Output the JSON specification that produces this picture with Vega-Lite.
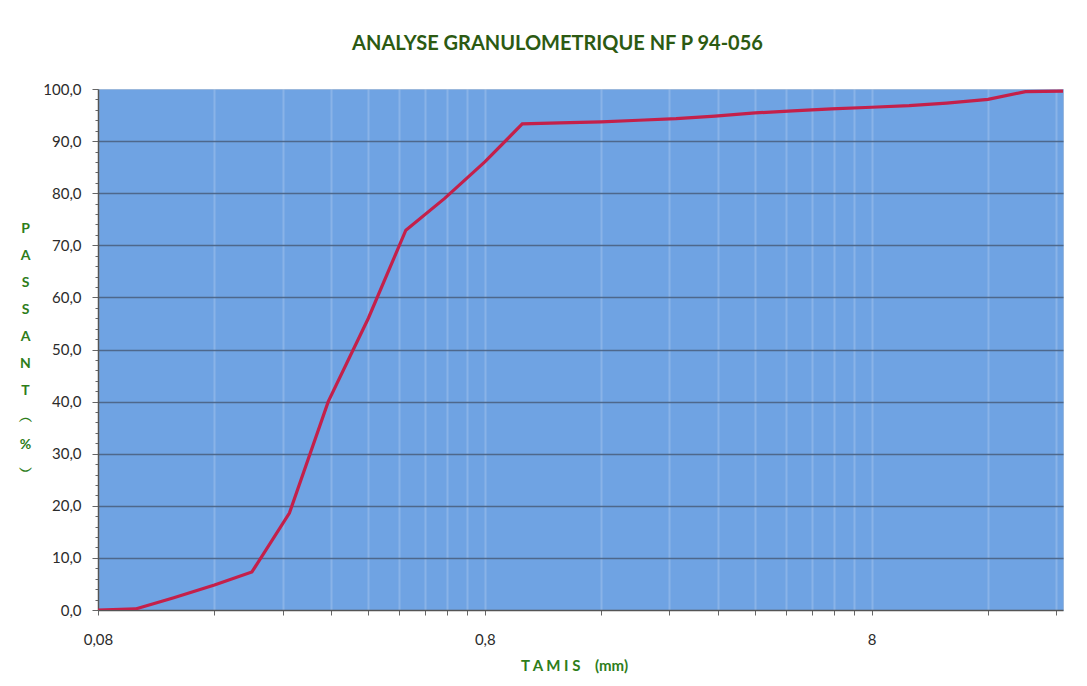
{
  "$schema": "https://vega.github.io/schema/vega-lite/v6.json",
  "width": 965,
  "height": 521,
  "autosize": "none",
  "padding": {"left": 98, "top": 89, "right": 24, "bottom": 76},
  "background": "#ffffff",
  "title": {
    "text": "ANALYSE GRANULOMETRIQUE NF P 94-056",
    "font": "Lato",
    "fontSize": 20,
    "fontWeight": "bold",
    "color": "#2c5a12",
    "anchor": "middle",
    "frame": "group",
    "offset": 28,
    "dx": -23
  },
  "config": {
    "view": {"fill": "#6fa3e3", "stroke": "#9bb8dc", "strokeWidth": 1},
    "font": "Lato"
  },
  "data": {
    "values": [
      {"mm": 0.08, "passant": 0.0},
      {"mm": 0.1, "passant": 0.2},
      {"mm": 0.125, "passant": 2.3},
      {"mm": 0.16, "passant": 4.8},
      {"mm": 0.2, "passant": 7.3},
      {"mm": 0.25, "passant": 18.6},
      {"mm": 0.315, "passant": 40.0},
      {"mm": 0.4, "passant": 56.0},
      {"mm": 0.5, "passant": 72.9},
      {"mm": 0.63, "passant": 79.0},
      {"mm": 0.8, "passant": 86.0},
      {"mm": 1.0, "passant": 93.3},
      {"mm": 1.25, "passant": 93.5},
      {"mm": 1.6, "passant": 93.7},
      {"mm": 2.0, "passant": 94.0},
      {"mm": 2.5, "passant": 94.3},
      {"mm": 3.15, "passant": 94.8},
      {"mm": 4.0, "passant": 95.4},
      {"mm": 5.0, "passant": 95.8},
      {"mm": 6.3, "passant": 96.2},
      {"mm": 8.0, "passant": 96.5},
      {"mm": 10.0, "passant": 96.8},
      {"mm": 12.5, "passant": 97.3},
      {"mm": 16.0, "passant": 98.0},
      {"mm": 20.0, "passant": 99.5},
      {"mm": 25.0, "passant": 99.6}
    ]
  },
  "mark": {"type": "line", "color": "#c4204a", "strokeWidth": 3.2, "clip": true},
  "encoding": {
    "x": {
      "field": "mm",
      "type": "quantitative",
      "scale": {"type": "log", "domain": [0.08, 25], "nice": false},
      "axis": {
        "values": [0.08, 0.16, 0.24, 0.32, 0.4, 0.48, 0.56, 0.64, 0.72, 0.8, 1.6, 2.4, 3.2, 4, 4.8, 5.6, 6.4, 7.2, 8, 16, 24],
        "labelExpr": "(datum.value === 0.08 || datum.value === 0.8 || datum.value === 8) ? replace(format(datum.value, '~g'), '.', ',') : ''",
        "labelFont": "Lato",
        "labelFontSize": 15,
        "labelColor": "#2b2b2b",
        "labelPadding": 17,
        "labelFlush": false,
        "labelOverlap": false,
        "tickSize": 5,
        "tickColor": "#666666",
        "domainColor": "#555555",
        "domainWidth": 1.5,
        "grid": true,
        "gridColor": "#ffffff",
        "gridOpacity": 0.18,
        "gridWidth": 2,
        "title": "T A M I S\u00a0\u00a0\u00a0\u00a0(mm)",
        "titleFont": "Lato",
        "titleFontSize": 15,
        "titleFontWeight": "bold",
        "titleColor": "#2e7d1a",
        "titlePadding": 11,
        "titleX": 476
      }
    },
    "y": {
      "field": "passant",
      "type": "quantitative",
      "scale": {"domain": [0, 100], "nice": false},
      "axis": {
        "values": [0, 2, 4, 6, 8, 10, 12, 14, 16, 18, 20, 22, 24, 26, 28, 30, 32, 34, 36, 38, 40, 42, 44, 46, 48, 50, 52, 54, 56, 58, 60, 62, 64, 66, 68, 70, 72, 74, 76, 78, 80, 82, 84, 86, 88, 90, 92, 94, 96, 98, 100],
        "labelExpr": "datum.value % 10 === 0 ? replace(format(datum.value, '.1f'), '.', ',') : ''",
        "labelFont": "Lato",
        "labelFontSize": 15,
        "labelColor": "#2b2b2b",
        "labelPadding": 11,
        "labelOverlap": false,
        "tickSize": {"condition": {"test": "datum.value % 10 === 0", "value": 6}, "value": 3},
        "tickColor": "#666666",
        "domainColor": "#555555",
        "domainWidth": 1.5,
        "grid": true,
        "gridColor": "#4a6282",
        "gridOpacity": {"condition": {"test": "datum.value % 10 === 0 && datum.value > 0 && datum.value < 100", "value": 0.9}, "value": 0},
        "gridWidth": 1.4,
        "title": ["P", "A", "S", "S", "A", "N", "T", "︵", "%", "︶"],
        "titleAngle": 0,
        "titleFont": "Lato",
        "titleFontSize": 14,
        "titleFontWeight": "bold",
        "titleColor": "#2e7d1a",
        "titleLineHeight": 27,
        "titleAlign": "center",
        "titleBaseline": "top",
        "titleX": -73,
        "titleY": 132
      }
    }
  }
}
